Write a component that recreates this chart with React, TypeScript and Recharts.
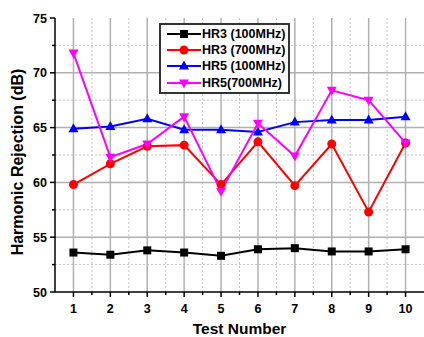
import React from 'react';
import { LineChart, Line, XAxis, YAxis, ReferenceLine, Legend } from 'recharts';

const tests = [1, 2, 3, 4, 5, 6, 7, 8, 9, 10];
const hr3_100 = [53.6, 53.4, 53.8, 53.6, 53.3, 53.9, 54.0, 53.7, 53.7, 53.9];
const hr3_700 = [59.8, 61.7, 63.3, 63.4, 59.8, 63.7, 59.7, 63.5, 57.3, 63.6];
const hr5_100 = [64.9, 65.1, 65.8, 64.8, 64.8, 64.6, 65.5, 65.7, 65.7, 66.0];
const hr5_700 = [71.8, 62.3, 63.5, 66.0, 59.2, 65.4, 62.4, 68.4, 67.5, 63.6];

const xTicks = [1, 1.5, 2, 2.5, 3, 3.5, 4, 4.5, 5, 5.5, 6, 6.5, 7, 7.5, 8, 8.5, 9, 9.5, 10];
const xMajorGrid = [1, 2, 3, 4, 5, 6, 7, 8, 9, 10];
const xMinorGrid = [1.5, 2.5, 3.5, 4.5, 5.5, 6.5, 7.5, 8.5, 9.5];
const yTicks = [50, 52.5, 55, 57.5, 60, 62.5, 65, 67.5, 70, 72.5, 75];
const yMajorGrid = [55, 60, 65, 70];
const yMinorGrid = [52.5, 57.5, 62.5, 67.5, 72.5];

const series = [
  { key: 'hr3_100', name: 'HR3 (100MHz)', color: '#000000', shape: 'square' },
  { key: 'hr3_700', name: 'HR3 (700MHz)', color: '#ff0000', shape: 'circle' },
  { key: 'hr5_100', name: 'HR5 (100MHz)', color: '#0000ff', shape: 'up' },
  { key: 'hr5_700', name: 'HR5(700MHz)', color: '#ff00ff', shape: 'down' },
];

const data = tests.map((t, i) => ({
  test: t,
  hr3_100: hr3_100[i],
  hr3_700: hr3_700[i],
  hr5_100: hr5_100[i],
  hr5_700: hr5_700[i],
}));

const FONT = '"Liberation Sans", Arial, sans-serif';

function Marker({ cx, cy, shape, color }: any) {
  if (shape === 'square') return <rect x={cx - 4} y={cy - 4} width={8} height={8} fill={color} />;
  if (shape === 'circle') return <circle cx={cx} cy={cy} r={4.5} fill={color} />;
  if (shape === 'up')
    return <polygon points={`${cx},${cy - 5.5} ${cx + 5},${cy + 3.5} ${cx - 5},${cy + 3.5}`} fill={color} />;
  return <polygon points={`${cx},${cy + 5.5} ${cx + 5},${cy - 3.5} ${cx - 5},${cy - 3.5}`} fill={color} />;
}

const XTick = (props: any) => {
  const { x, y, payload } = props;
  const major = Number.isInteger(payload.value);
  return (
    <g>
      <line x1={x} y1={y} x2={x} y2={y + (major ? 5 : 3)} stroke="#000" strokeWidth={1.5} />
      {major && (
        <text x={x} y={y + 21} textAnchor="middle" fontFamily={FONT} fontWeight="bold" fontSize={12.5} fill="#000">
          {payload.value}
        </text>
      )}
    </g>
  );
};

const YTick = (props: any) => {
  const { x, y, payload } = props;
  const major = payload.value % 5 === 0;
  return (
    <g>
      <line x1={x} y1={y} x2={x - (major ? 5 : 3)} y2={y} stroke="#000" strokeWidth={1.5} />
      {major && (
        <text x={x - 8} y={y + 4.5} textAnchor="end" fontFamily={FONT} fontWeight="bold" fontSize={12.5} fill="#000">
          {payload.value}
        </text>
      )}
    </g>
  );
};

const YLabel = (props: any) => {
  const { viewBox } = props;
  const cy = viewBox.y + viewBox.height / 2 + 7;
  const cx = 23;
  return (
    <text
      x={cx}
      y={cy}
      transform={`rotate(-90, ${cx}, ${cy})`}
      textAnchor="middle"
      fontFamily={FONT}
      fontWeight="bold"
      fontSize={16}
      fill="#000"
    >
      Harmonic Rejection (dB)
    </text>
  );
};

const renderLegend = () => (
  <div
    style={{
      border: '2px solid #333',
      background: '#fff',
      padding: '1px 3px 1px 6px',
      fontFamily: FONT,
      fontWeight: 'bold',
      fontSize: 12.5,
      whiteSpace: 'nowrap',
      display: 'inline-block',
    }}
  >
    {series.map((s) => (
      <div key={s.key} style={{ display: 'flex', alignItems: 'center', height: 16.2 }}>
        <svg width={34} height={14} style={{ marginRight: 1 }}>
          <line x1={0} y1={7} x2={34} y2={7} stroke={s.color} strokeWidth={2} />
          <Marker cx={17} cy={7} shape={s.shape} color={s.color} />
        </svg>
        <span>{s.name}</span>
      </div>
    ))}
  </div>
);

export default function App() {
  return (
    <div style={{ position: 'absolute', left: 0, top: 0, width: 424, height: 337, background: '#fff', overflow: 'hidden' }}>
      <LineChart width={424} height={337} data={data} margin={{ top: 18, right: 0, bottom: 0, left: 0 }}>
        <XAxis
          dataKey="test"
          type="number"
          domain={[0.5, 10.5]}
          ticks={xTicks}
          interval={0}
          tickSize={0}
          tickMargin={0}
          tickLine={false}
          tick={<XTick />}
          height={45}
          axisLine={{ stroke: '#000', strokeWidth: 1.5 }}
          label={{ value: 'Test Number', position: 'insideBottom', offset: 3, fontFamily: FONT, fontWeight: 'bold', fontSize: 15.5, fill: '#000' }}
        />
        <YAxis
          type="number"
          domain={[50, 75]}
          ticks={yTicks}
          interval={0}
          tickSize={0}
          tickMargin={0}
          tickLine={false}
          tick={<YTick />}
          width={55}
          axisLine={{ stroke: '#000', strokeWidth: 1.5 }}
          label={<YLabel />}
        />
        {yMinorGrid.map((v) => (
          <ReferenceLine key={`ym${v}`} y={v} stroke="#c4c4c4" strokeDasharray="2 2" strokeWidth={1} />
        ))}
        {xMinorGrid.map((v) => (
          <ReferenceLine key={`xm${v}`} x={v} stroke="#c4c4c4" strokeDasharray="2 2" strokeWidth={1} />
        ))}
        {yMajorGrid.map((v) => (
          <ReferenceLine key={`yM${v}`} y={v} stroke="#b0b0b0" strokeWidth={1.5} />
        ))}
        {xMajorGrid.map((v) => (
          <ReferenceLine key={`xM${v}`} x={v} stroke="#b0b0b0" strokeWidth={1.5} />
        ))}
        {series.map((s) => (
          <Line
            key={s.key}
            dataKey={s.key}
            name={s.name}
            stroke={s.color}
            strokeWidth={2}
            isAnimationActive={false}
            dot={(p: any) => <Marker key={`${s.key}-${p.index}`} cx={p.cx} cy={p.cy} shape={s.shape} color={s.color} />}
            activeDot={false}
          />
        ))}
        <Legend
          layout="vertical"
          align="center"
          verticalAlign="middle"
          content={renderLegend}
          wrapperStyle={{ left: 159, top: 23, width: 'auto', height: 'auto' }}
        />
      </LineChart>
    </div>
  );
}
